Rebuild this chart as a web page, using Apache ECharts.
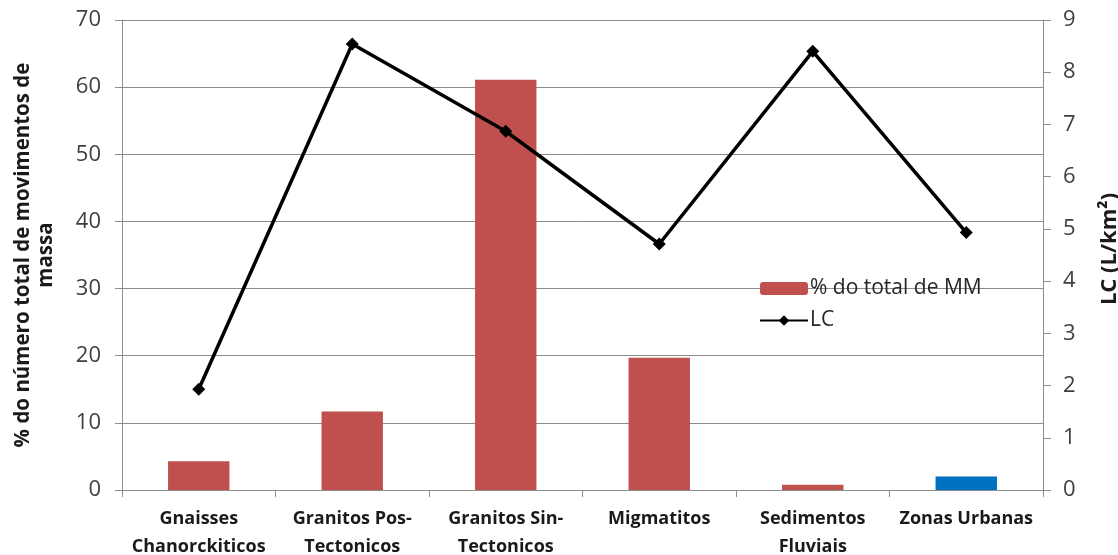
<!DOCTYPE html>
<html>
<head>
<meta charset="utf-8">
<script src="https://cdn.jsdelivr.net/npm/echarts@6/dist/echarts.min.js"></script>
<style>
  html, body { margin: 0; padding: 0; background: #fff; }
  #chart { width: 1118px; height: 555px; }
</style>
</head>
<body>
<div id="chart"></div>
<script>
// Lithology classes along the x axis
const categories = [
  'Gnaisses\nChanorckiticos',
  'Granitos Pos-\nTectonicos',
  'Granitos Sin-\nTectonicos',
  'Migmatitos',
  'Sedimentos\nFluviais',
  'Zonas Urbanas'
];
// Share of all mass movements (%) per class
const pctMM = [4.3, 11.7, 61.1, 19.7, 0.8, 2.0];
// Landslide concentration LC (L/km²) per class
const lcValues = [1.93, 8.54, 6.87, 4.71, 8.40, 4.93];
// Bar colours: the urban zone is highlighted in blue
const barColors = ['#C0504D', '#C0504D', '#C0504D', '#C0504D', '#C0504D', '#0070C0'];

const leftAxisName = '% do número total de movimentos de\nmassa';
const rightAxisName = 'LC (L/km²)';
const barSeriesName = '% do total de MM';
const lineSeriesName = 'LC';

const FONT = '"Open Sans", "Liberation Sans", sans-serif';
const GRID_COLOR = '#8c8c8c';

const chart = echarts.init(document.getElementById('chart'), null, { renderer: 'canvas' });

chart.setOption({
  animation: false,
  backgroundColor: '#ffffff',
  textStyle: { fontFamily: FONT },
  grid: {
    left: 122, right: 75, top: 20, bottom: 65,
    containLabel: false,
    outerBoundsMode: 'none'
  },
  legend: {
    orient: 'vertical',
    left: 754,
    top: 273,
    itemWidth: 48,
    itemHeight: 13,
    itemGap: 11,
    textStyle: { fontFamily: FONT, fontSize: 21, color: '#262626', padding: [0, 0, 0, -3] },
    data: [
      { name: barSeriesName, itemStyle: { color: '#C0504D' } },
      { name: lineSeriesName }
    ]
  },
  xAxis: {
    type: 'category',
    data: categories,
    axisLine: { lineStyle: { color: GRID_COLOR, width: 1 } },
    axisTick: { show: true, alignWithLabel: false, length: 7, lineStyle: { color: GRID_COLOR } },
    axisLabel: {
      interval: 0,
      margin: 15,
      fontFamily: FONT,
      fontSize: 18,
      fontWeight: 'bold',
      color: '#1a1a1a',
      lineHeight: 28
    }
  },
  yAxis: [
    {
      type: 'value',
      min: 0,
      max: 70,
      interval: 10,
      name: leftAxisName,
      nameLocation: 'middle',
      nameGap: 64,
      nameRotate: 90,
      nameTextStyle: {
        fontFamily: FONT,
        fontSize: 20.5,
        fontWeight: 'bold',
        color: '#1a1a1a',
        lineHeight: 23,
        align: 'center'
      },
      axisLine: { show: true, lineStyle: { color: GRID_COLOR } },
      axisTick: { show: true, length: 7, lineStyle: { color: GRID_COLOR } },
      axisLabel: { margin: 21, fontFamily: FONT, fontSize: 22, color: '#404040' },
      splitLine: { show: true, lineStyle: { color: GRID_COLOR, width: 1 } }
    },
    {
      type: 'value',
      min: 0,
      max: 9,
      interval: 1,
      position: 'right',
      name: rightAxisName,
      nameLocation: 'middle',
      nameGap: 56,
      nameRotate: 90,
      nameTextStyle: {
        fontFamily: FONT,
        fontSize: 22,
        fontWeight: 'bold',
        color: '#1a1a1a',
        padding: [0, 0, 0, 12]
      },
      axisLine: { show: true, lineStyle: { color: GRID_COLOR } },
      axisTick: { show: true, length: 8, lineStyle: { color: GRID_COLOR } },
      axisLabel: { margin: 20, fontFamily: FONT, fontSize: 22, color: '#404040' },
      splitLine: { show: false }
    }
  ],
  series: [
    {
      name: barSeriesName,
      type: 'bar',
      yAxisIndex: 0,
      barWidth: '40%',
      data: pctMM.map((v, i) => ({ value: v, itemStyle: { color: barColors[i] } })),
      itemStyle: { color: '#C0504D' }
    },
    {
      name: lineSeriesName,
      type: 'line',
      yAxisIndex: 1,
      data: lcValues,
      symbol: 'diamond',
      symbolSize: 13,
      showSymbol: true,
      lineStyle: { color: '#000000', width: 3.5 },
      itemStyle: { color: '#000000' },
      z: 5
    }
  ]
});
</script>
</body>
</html>
